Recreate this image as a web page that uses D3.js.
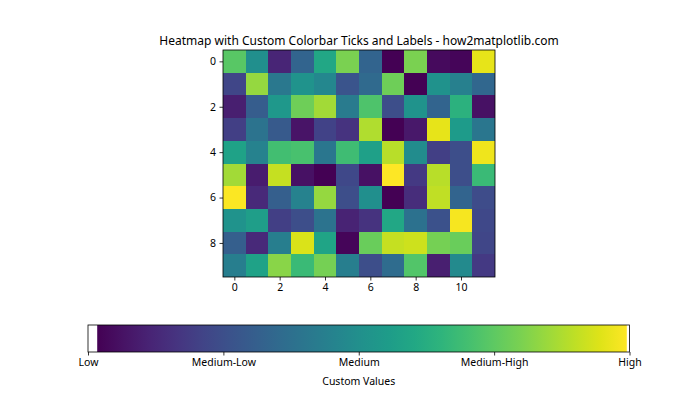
<!DOCTYPE html>
<html><head><meta charset="utf-8">
<script src="https://cdn.jsdelivr.net/npm/d3@7"></script>
<style>body{margin:0;background:#fff}svg{display:block}text{font-family:"Noto Sans",sans-serif;fill:#000}</style>
</head><body><svg id="c" width="700" height="420"></svg>
<script>
const title = "Heatmap with Custom Colorbar Ticks and Labels - how2matplotlib.com";
const rowsData = [
 [0.74,0.50,0.12,0.33,0.60,0.80,0.33,0.02,0.80,0.04,0.03,0.96],
 [0.22,0.84,0.41,0.52,0.47,0.27,0.35,0.78,0.017,0.51,0.44,0.34],
 [0.10,0.30,0.54,0.78,0.86,0.42,0.72,0.25,0.52,0.33,0.64,0.06],
 [0.20,0.39,0.29,0.07,0.21,0.16,0.88,0.02,0.08,0.96,0.55,0.40],
 [0.58,0.45,0.70,0.71,0.40,0.69,0.57,0.89,0.49,0.20,0.25,0.97],
 [0.86,0.09,0.91,0.06,0.02,0.23,0.06,0.995,0.18,0.89,0.25,0.68],
 [0.99,0.13,0.31,0.45,0.84,0.25,0.50,0.02,0.14,0.90,0.33,0.24],
 [0.52,0.56,0.20,0.25,0.39,0.11,0.16,0.60,0.38,0.26,0.98,0.23],
 [0.31,0.13,0.43,0.94,0.59,0.03,0.77,0.91,0.92,0.79,0.77,0.22],
 [0.43,0.58,0.82,0.68,0.79,0.43,0.25,0.36,0.73,0.10,0.48,0.18]
];
const xTicks = [0,2,4,6,8,10];
const yTicks = [0,2,4,6,8];
const cbarTicks = [0,0.25,0.5,0.75,1];
const cbarLabels = ["Low","Medium-Low","Medium","Medium-High","High"];
const cbarTitle = "Custom Values";

const svg = d3.select("#c");
const nRows = rowsData.length, nCols = rowsData[0].length;
const flat = rowsData.flat();
const vmin = d3.min(flat), vmax = d3.max(flat);
const color = d3.scaleSequential(d3.interpolateViridis).domain([vmin, vmax]);

const L = 223, R = 495, T = 50, B = 277;
const x = d3.scaleBand().domain(d3.range(nCols)).range([L, R]).padding(0);
const y = d3.scaleBand().domain(d3.range(nRows)).range([T, B]).padding(0);

const cells = [];
rowsData.forEach((r,i)=>r.forEach((v,j)=>cells.push({i,j,v})));
svg.append("g").selectAll("rect").data(cells).join("rect")
  .attr("x", d=>x(d.j)).attr("y", d=>y(d.i))
  .attr("width", x.bandwidth()+0.3).attr("height", y.bandwidth()+0.3)
  .attr("fill", d=>color(d.v)).attr("shape-rendering","crispEdges");

svg.append("rect").attr("x",L).attr("y",T).attr("width",R-L).attr("height",B-T)
  .attr("fill","none").attr("stroke","#000").attr("stroke-width",0.8);

const FS = 10.5;
const xAxis = d3.axisBottom(d3.scaleLinear().domain([-0.5, nCols-0.5]).range([L,R]))
  .tickValues(xTicks).tickSize(3.5).tickPadding(3.5).tickFormat(d3.format("d"));
const gx = svg.append("g").attr("transform",`translate(0,${B})`).call(xAxis);
const yAxis = d3.axisLeft(d3.scaleLinear().domain([-0.5, nRows-0.5]).range([T,B]))
  .tickValues(yTicks).tickSize(3.5).tickPadding(3.5).tickFormat(d3.format("d"));
const gy = svg.append("g").attr("transform",`translate(${L},0)`).call(yAxis);
[gx,gy].forEach(g=>{
  g.select(".domain").remove();
  g.selectAll(".tick line").attr("stroke","#000").attr("stroke-width",0.8);
  g.selectAll(".tick text").attr("font-size",FS).attr("font-family","Noto Sans").attr("fill","#000");
});

svg.append("text").attr("x",359).attr("y",45).attr("text-anchor","middle")
  .attr("font-size",12).text(title);

// colorbar
const CL = 88, CR = 629.5, CT = 325, CB = 352;
const cx = d3.scaleLinear().domain([0,1]).range([CL, CR]);
const defs = svg.append("defs");
const grad = defs.append("linearGradient").attr("id","vir").attr("x1","0%").attr("x2","100%");
d3.range(0,1.0001,0.05).forEach(t=>{
  grad.append("stop").attr("offset",(t*100)+"%").attr("stop-color",d3.interpolateViridis(t));
});
svg.append("rect").attr("x",cx(vmin)).attr("y",CT).attr("width",cx(vmax)-cx(vmin)).attr("height",CB-CT)
  .attr("fill","url(#vir)");
svg.append("rect").attr("x",CL).attr("y",CT).attr("width",CR-CL).attr("height",CB-CT)
  .attr("fill","none").attr("stroke","#000").attr("stroke-width",0.8);
const cAxis = d3.axisBottom(cx).tickValues(cbarTicks).tickSize(3.5).tickPadding(3.5)
  .tickFormat((d,i)=>cbarLabels[i]);
const gc = svg.append("g").attr("transform",`translate(0,${CB})`).call(cAxis);
gc.select(".domain").remove();
gc.selectAll(".tick line").attr("stroke","#000").attr("stroke-width",0.8);
gc.selectAll(".tick text").attr("font-size",FS).attr("font-family","Noto Sans").attr("fill","#000");
svg.append("text").attr("x",(CL+CR)/2).attr("y",385).attr("text-anchor","middle")
  .attr("font-size",FS).text(cbarTitle);
</script></body></html>
